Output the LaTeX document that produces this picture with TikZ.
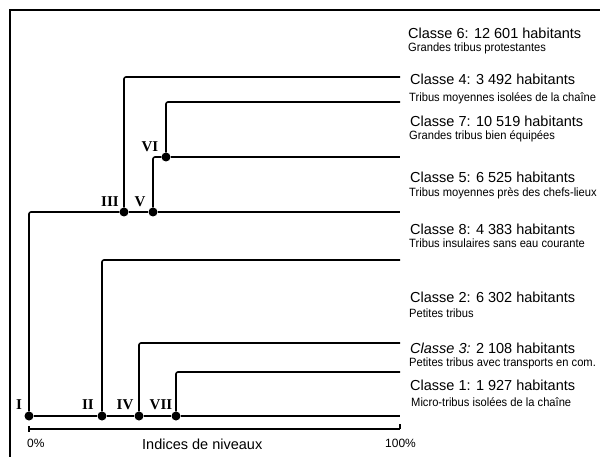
\documentclass[tikz,border=0pt]{standalone}
\usepackage{fontspec}
\setmainfont{Liberation Sans}
\newfontfamily\condfont{Liberation Sans}[FakeStretch=0.93]
\newfontfamily\romfont{Liberation Serif}
\begin{document}
\begin{tikzpicture}[x=1pt,y=-1pt,
  branch/.style={line width=1.6pt, rounded corners=2pt},
  frameline/.style={line width=1.1pt},
  dotnode/.style={circle, fill=black, inner sep=0pt, minimum size=9pt},
  cls/.style={anchor=base west, inner sep=0pt, font=\fontsize{14.5}{16}\selectfont},
  sub/.style={anchor=base west, inner sep=0pt, font=\condfont\fontsize{12}{14}\selectfont},
  rom/.style={anchor=base, inner sep=0pt, font=\romfont\bfseries\fontsize{15}{17}\selectfont},
  pct/.style={anchor=base west, inner sep=0pt, font=\fontsize{12}{14}\selectfont},
  axislabel/.style={anchor=base west, inner sep=0pt, font=\fontsize{14.5}{16}\selectfont}]
\useasboundingbox (0,0) rectangle (600,457);
% frame
\coordinate (fbl) at (10,457);
\coordinate (ftl) at (10,10);
\coordinate (ftr) at (600,10);
\draw[frameline] (fbl) -- (ftl) -- (ftr);
% leaf ends
\coordinate (e4) at (400,77);
\coordinate (e7) at (400,102);
\coordinate (e5) at (400,157);
\coordinate (e8) at (400,212);
\coordinate (e2) at (400,260);
\coordinate (e3) at (400,343);
\coordinate (e6) at (400,372);
\coordinate (e1) at (400,416);
% junctions
\node[dotnode] (I) at (29,416) {};
\node[dotnode] (II) at (102,416) {};
\node[dotnode] (IV) at (139,416) {};
\node[dotnode] (VII) at (176,416) {};
\node[dotnode] (III) at (124,212) {};
\node[dotnode] (V) at (153,212) {};
\node[dotnode] (VI) at (166,157) {};
% branches
\draw[branch] (I) -- (II) -- (IV) -- (VII) -- (e1);
\draw[branch] (I) |- (III);
\draw[branch] (III) -- (V) -- (e8);
\draw[branch] (III) |- (e4);
\draw[branch] (V) |- (VI);
\draw[branch] (VI) -- (e5);
\draw[branch] (VI) |- (e7);
\draw[branch] (II) |- (e2);
\draw[branch] (IV) |- (e3);
\draw[branch] (VII) |- (e6);
% roman labels
\node[rom] (lI) at (19,409) {I};
\node[rom] (lII) at (88,409) {II};
\node[rom] (lIV) at (125,409) {IV};
\node[rom] (lVII) at (161,409) {VII};
\node[rom] (lIII) at (110,207) {III};
\node[rom] (lV) at (140,207) {V};
\node[rom] (lVI) at (150,152) {VI};
% class labels
\node[cls] (c6) at (408,39) {Classe 6: 12 601 habitants};
\node[sub] (s6) at (408,52) {Grandes tribus protestantes};
\node[cls] (c4) at (410,85) {Classe 4: 3 492 habitants};
\node[sub] (s4) at (409,102) {Tribus moyennes isolées de la chaîne};
\node[cls] (c7) at (410,127) {Classe 7: 10 519 habitants};
\node[sub] (s7) at (409,140) {Grandes tribus bien équipées};
\node[cls] (c5) at (410,183) {Classe 5: 6 525 habitants};
\node[sub] (s5) at (409,197) {Tribus moyennes près des chefs-lieux};
\node[cls] (c8) at (410,235) {Classe 8: 4 383 habitants};
\node[sub] (s8) at (409,248) {Tribus insulaires sans eau courante};
\node[cls] (c2) at (410,302) {Classe 2: 6 302 habitants};
\node[sub] (s2) at (409,317) {Petites tribus};
\node[cls] (c3) at (410,353) {\itshape Classe 3:\upshape{} 2 108 habitants};
\node[sub] (s3) at (409,366) {Petites tribus avec transports en com.};
\node[cls] (c1) at (410,390) {Classe 1: 1 927 habitants};
\node[sub] (s1) at (411,406) {Micro-tribus isolées de la chaîne};
% scale bar
\coordinate (s0) at (29,429);
\coordinate (s100) at (400,429);
\coordinate (s0a) at (29,426);
\coordinate (s0b) at (29,432);
\coordinate (s100a) at (400,424);
\draw[frameline] (s0) -- (s100);
\draw[frameline] (s0a) -- (s0b);
\draw[frameline] (s100a) -- (s100);
\node[pct] (p0) at (27,447) {0\%};
\node[axislabel] (ax) at (142,449) {Indices de niveaux};
\node[pct] (p100) at (385,447) {100\%};
\end{tikzpicture}
\end{document}
